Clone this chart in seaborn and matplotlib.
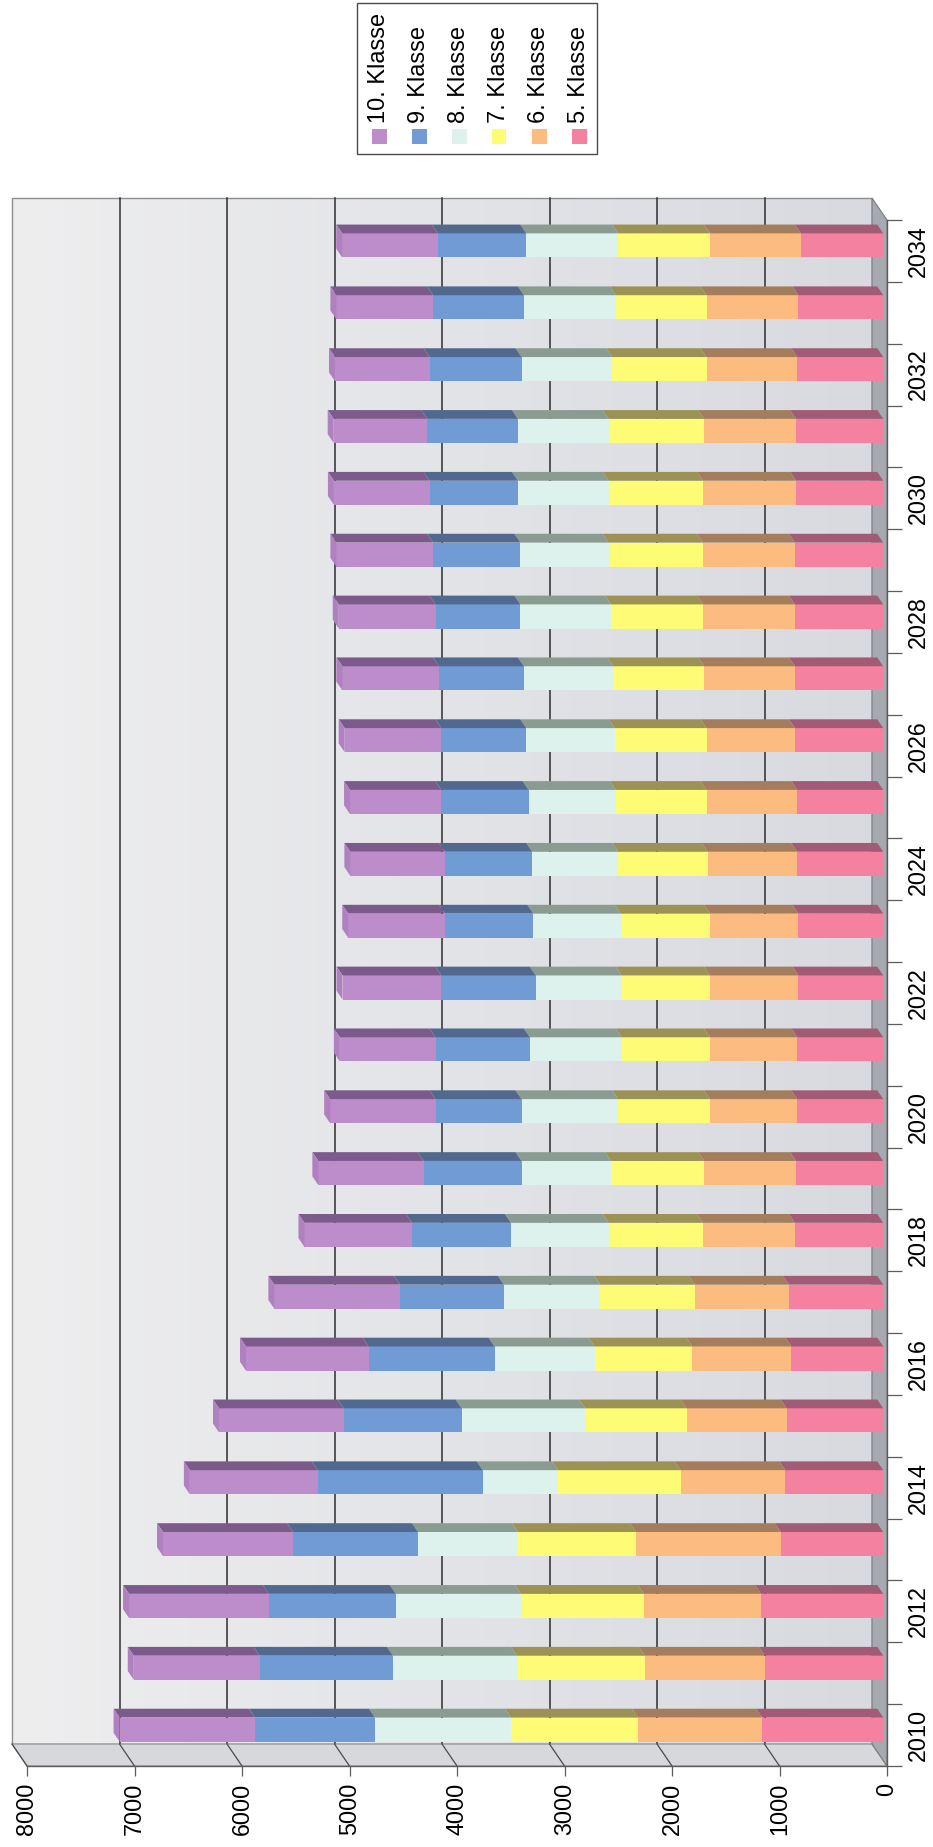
import matplotlib
matplotlib.use("Agg")
import matplotlib.pyplot as plt
import matplotlib.colors as mcolors
from matplotlib import transforms
from matplotlib.patches import Polygon, Rectangle
from matplotlib.ticker import FixedLocator, FixedFormatter, NullFormatter
import numpy as np
import pandas as pd
import seaborn as sns

# ---- data: pupils per grade and school year -------------------------------
years = list(range(2010, 2035))
klasse_5 = [1128, 1100, 1138, 953, 910, 899, 855, 877, 822, 811, 800, 800, 789,
            789, 800, 800, 822, 822, 822, 822, 811, 811, 800, 789, 767]
klasse_6 = [1153, 1117, 1088, 1348, 975, 931, 920, 877, 855, 855, 811, 811, 822,
            822, 833, 844, 822, 844, 855, 855, 866, 855, 844, 855, 844]
klasse_7 = [1182, 1191, 1145, 1096, 1140, 942, 910, 877, 877, 866, 855, 822, 822,
            833, 833, 844, 855, 844, 855, 877, 877, 888, 877, 844, 855]
klasse_8 = [1265, 1153, 1163, 931, 701, 1151, 931, 899, 910, 833, 899, 855, 800,
            811, 800, 811, 822, 833, 844, 822, 844, 844, 844, 855, 855]
klasse_9 = [1116, 1241, 1182, 1162, 1534, 1096, 1172, 964, 920, 910, 800, 877, 877,
            822, 811, 811, 789, 789, 789, 811, 822, 844, 855, 844, 822]
klasse_10 = [1260, 1170, 1300, 1210, 1190, 1160, 1140, 1170, 1000, 980, 980, 890, 920,
             900, 880, 850, 900, 900, 900, 900, 890, 870, 880, 900, 890]

series_names = ["5. Klasse", "6. Klasse", "7. Klasse", "8. Klasse", "9. Klasse", "10. Klasse"]
series_values = [klasse_5, klasse_6, klasse_7, klasse_8, klasse_9, klasse_10]
face_colors = ["#f4819f", "#fcbc80", "#fdfc74", "#ddf2ec", "#709bd4", "#bc8dca"]
side_colors = ["#a25b74", "#a47e5c", "#9c9256", "#8a9c92", "#52698f", "#7c5b8c"]
cap_color = "#b080c0"

value_ticks = [0, 1000, 2000, 3000, 4000, 5000, 6000, 7000, 8000]
year_ticklabels = [str(y) for y in years[::2]]

df = pd.DataFrame({"Jahr": years, **dict(zip(series_names, series_values))})
cum = np.cumsum(np.array(series_values, dtype=float), axis=0)

# ---- figure and front plane of the 3-D box --------------------------------
plt.rcParams["font.family"] = ["Liberation Sans", "DejaVu Sans"]
W, H, DPI = 933, 1847, 100
fig = plt.figure(figsize=(W / DPI, H / DPI), dpi=DPI, facecolor="white")
AX_L, AX_B, AX_W, AX_H = 27, 81, 860, 1546
ax = fig.add_axes([AX_L / W, AX_B / H, AX_W / W, AX_H / H])
ax.patch.set_visible(False)

VMAX = 8000
Y0, Y1 = years[0] - 0.5, years[-1] + 0.5
ax.set_xlim(VMAX, 0)
ax.set_ylim(Y0, Y1)

# depth of the box (15 px left, 22 px up) expressed in data units
ppx = VMAX / AX_W
ppy = (Y1 - Y0) / AX_H
dx, dy = 15 * ppx, 22 * ppy

# back wall with a soft gradient
wall_cmap = mcolors.LinearSegmentedColormap.from_list("wall", ["#d8dae0", "#eeeeef"])
grad = np.linspace(0, 1, 256)[None, :]
ax.imshow(grad, extent=(dx, VMAX + dx, Y0 + dy, Y1 + dy), cmap=wall_cmap,
          aspect="auto", origin="lower", zorder=0, clip_on=False,
          interpolation="bilinear")
ax.add_patch(Rectangle((dx, Y0 + dy), VMAX, Y1 - Y0, fill=False,
                       edgecolor="#8c8c8c", lw=1.0, zorder=0.4, clip_on=False))
for v in value_ticks[1:-1]:
    ax.plot([v + dx, v + dx], [Y0 + dy, Y1 + dy], color="#2e2e2e", lw=1.1,
            zorder=0.5, clip_on=False)

# side wall along the bottom edge
ax.add_patch(Polygon([(0, Y0), (VMAX, Y0), (VMAX + dx, Y0 + dy), (dx, Y0 + dy)],
                     closed=True, facecolor="#d6d8dc", edgecolor="#8a8a8a",
                     lw=0.8, zorder=0.6, clip_on=False))
for v in value_ticks[1:]:
    ax.plot([v, v + dx], [Y0, Y0 + dy], color="#4a4a4a", lw=0.9,
            zorder=0.7, clip_on=False)

# floor on the right edge
ax.add_patch(Polygon([(0, Y0), (dx, Y0 + dy), (dx, Y1 + dy), (0, Y1)],
                     closed=True, facecolor="#a6a9af", edgecolor="#7c7c80",
                     lw=0.8, zorder=0.6, clip_on=False))

# ---- stacked bars ----------------------------------------------------------
bar_w = 0.39
face_tr = transforms.offset_copy(ax.transData, fig=fig, x=-3.75, y=5.5, units="dots")
bx, by = 0.4 * dx, 0.4 * dy

for k in reversed(range(len(series_names))):
    n_before = len(ax.patches)
    sns.barplot(x=cum[k], y=years, orient="y", native_scale=True,
                color=face_colors[k], saturation=1, width=bar_w,
                edgecolor="none", linewidth=0, ax=ax, zorder=2)
    for p in ax.patches[n_before:]:
        p.set_transform(face_tr)
        p.set_clip_on(False)

for i, yr in enumerate(years):
    top = yr + bar_w / 2
    bot = yr - bar_w / 2
    lo = 0.0
    for k in range(len(series_names)):
        hi = cum[k][i]
        ax.add_patch(Polygon([(lo, top), (hi, top), (hi + bx, top + by), (lo + bx, top + by)],
                             closed=True, facecolor=side_colors[k], edgecolor="none",
                             transform=face_tr, zorder=2.1, clip_on=False))
        lo = hi
    total = cum[-1][i]
    ax.add_patch(Polygon([(total, bot), (total, top), (total + bx, top + by), (total + bx, bot + by)],
                         closed=True, facecolor=cap_color, edgecolor="none",
                         transform=face_tr, zorder=2.1, clip_on=False))

# ---- axes ------------------------------------------------------------------
ax.set_xlim(VMAX, 0)
ax.set_ylim(Y0, Y1)
ax.set_xlabel("")
ax.set_ylabel("")
for s in ("top", "left"):
    ax.spines[s].set_visible(False)
for s in ("bottom", "right"):
    ax.spines[s].set_color("#5c5c5c")
    ax.spines[s].set_linewidth(1.0)
    ax.spines[s].set_zorder(3)

ax.xaxis.set_major_locator(FixedLocator(value_ticks))
ax.xaxis.set_major_formatter(FixedFormatter([str(v) for v in value_ticks]))
ax.tick_params(axis="x", which="major", direction="out", length=7.2, width=0.9,
               color="#5c5c5c", pad=5, bottom=True, top=False,
               labelsize=16.8, labelrotation=90)

ax.yaxis.tick_right()
ax.yaxis.set_major_locator(FixedLocator(np.arange(Y0, Y1 + 0.01, 1.0)))
ax.yaxis.set_major_formatter(NullFormatter())
ax.yaxis.set_minor_locator(FixedLocator(years[::2]))
ax.yaxis.set_minor_formatter(FixedFormatter(year_ticklabels))
ax.tick_params(axis="y", which="major", direction="out", length=10.8, width=0.9,
               color="#5c5c5c", right=True, left=False, labelleft=False)
ax.tick_params(axis="y", which="minor", length=0, pad=14, labelsize=16.8,
               right=True, left=False, labelright=True, labelleft=False)
for lbl in ax.get_yticklabels(minor=True):
    lbl.set_rotation(90)
    lbl.set_va("center")

# ---- legend (vertical text, one column per grade) --------------------------
def fx(x):
    return x / W


def fy(y):
    return 1 - y / H


fig.add_artist(Rectangle((fx(357), fy(154)), (597 - 357) / W, (154 - 3) / H,
                         transform=fig.transFigure, fill=False,
                         edgecolor="#4a4a4a", lw=1.0))
legend_order = list(reversed(range(len(series_names))))
for j, k in enumerate(legend_order):
    cx = 379 + 40 * j
    fig.add_artist(Rectangle((fx(cx - 7.5), fy(144)), 15 / W, 15 / H,
                             transform=fig.transFigure, facecolor=face_colors[k],
                             edgecolor="none"))
    fig.text(fx(cx), fy(123), series_names[k], rotation=90, ha="center",
             va="bottom", fontsize=17, color="black")

fig.savefig("out.png", dpi=DPI, facecolor="white")
